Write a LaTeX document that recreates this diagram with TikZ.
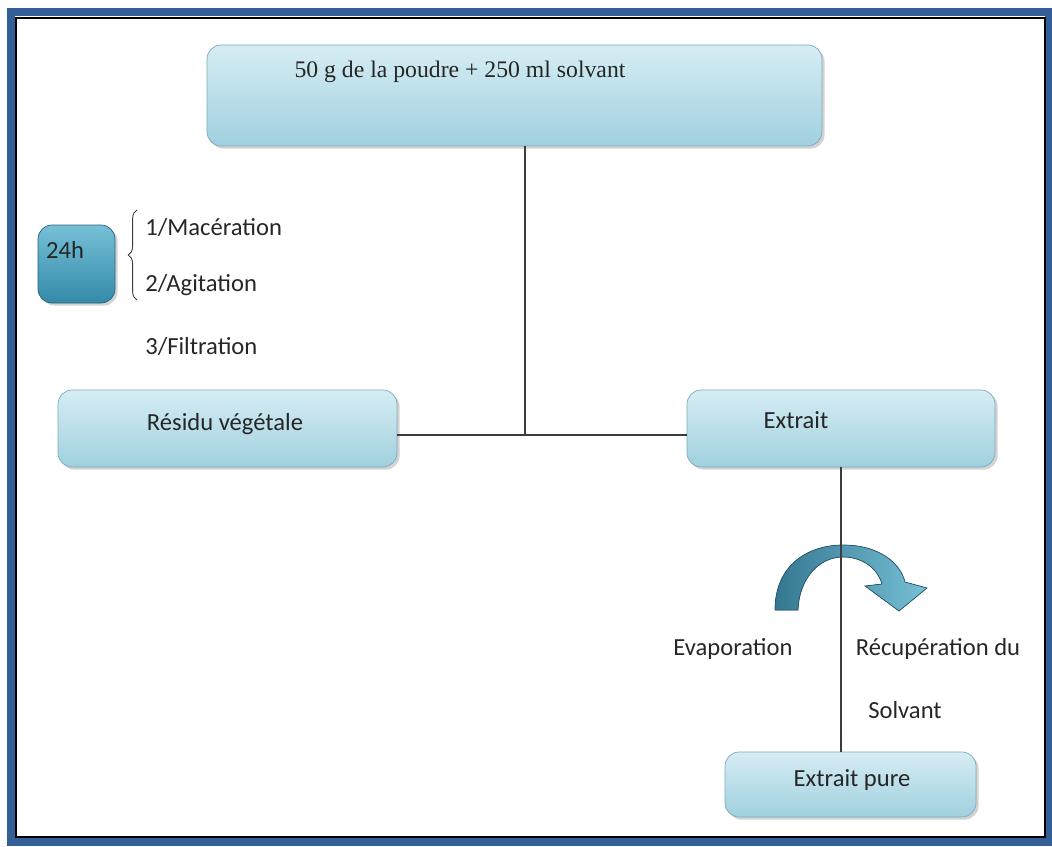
\documentclass[tikz,border=0pt]{standalone}
\usepackage{fontspec}
\setmainfont{Carlito}
\newfontfamily\serifpoudre{Liberation Serif}
\usetikzlibrary{shadows,decorations.pathreplacing}
\definecolor{cadre}{RGB}{52,94,150}
\definecolor{boiteclair}{RGB}{214,237,244}
\definecolor{boitefonce}{RGB}{160,208,222}
\definecolor{bord}{RGB}{125,170,188}
\definecolor{bleuh}{RGB}{118,192,214}
\definecolor{bleub}{RGB}{52,138,170}
\definecolor{fleche}{RGB}{62,140,170}
\definecolor{trait}{RGB}{60,60,60}
\begin{document}
\begin{tikzpicture}[x=0.02cm,y=0.02cm,
  etape/.style={draw=bord, rounded corners=0.28cm, top color=boiteclair, bottom color=boitefonce,
    drop shadow={shadow xshift=1.5pt,shadow yshift=-1.5pt,opacity=0.35}, inner sep=0pt},
  texte/.style={font=\fontsize{14}{16}\selectfont, text=black!85, inner sep=0pt, anchor=base},
  lien/.style={draw=trait, line width=0.8pt}]
 \useasboundingbox (0,0) rectangle (1052,-846);
 \draw[cadre, line width=0.16cm] (11,-12) rectangle (1049,-842);
 \draw[black, line width=1.2pt] (16,-18) rectangle (1045,-837);

 \node[etape, minimum width=12.3cm, minimum height=2.02cm] (poudre) at (514.5,-95.5) {};
 \node[etape, minimum width=6.78cm, minimum height=1.54cm] (residu) at (227.5,-428.5) {};
 \node[etape, minimum width=6.16cm, minimum height=1.54cm] (extrait) at (841,-428.5) {};
 \node[etape, minimum width=5.02cm, minimum height=1.30cm] (pure) at (850.5,-784.5) {};
 \node[etape, draw=bleub!70!black, top color=bleuh, bottom color=bleub, minimum width=1.54cm, minimum height=1.56cm] (duree) at (76.5,-264) {};

 \node[texte, font=\serifpoudre\fontsize{13.5}{16}\selectfont] (poudretexte) at (460,-77) {50 g de la poudre + 250 ml solvant};
 \node[texte] (residutexte) at (225,-430) {Résidu végétale};
 \node[texte] (extraittexte) at (796,-428) {Extrait};
 \node[texte] (puretexte) at (852,-786) {Extrait pure};
 \node[texte] (dureetexte) at (65,-258) {24h};
 \node[texte, anchor=base west] (maceration) at (145,-235) {1/Macération};
 \node[texte, anchor=base west] (agitation) at (145,-291) {2/Agitation};
 \node[texte, anchor=base west] (filtration) at (145,-354) {3/Filtration};
 \node[texte] (evaporation) at (733,-655) {Evaporation};
 \node[texte] (recuperation) at (938,-655) {Récupération du};
 \node[texte] (solvant) at (905,-718) {Solvant};

 \draw[trait, line width=0.5pt, decorate, decoration={brace, amplitude=5pt}] (137,-300) -- (137,-210);

 \coordinate (jonction) at (525,-435);
 \draw[lien] (poudre.south -| jonction) -- (jonction);
 \draw[lien] (residu.east |- jonction) -- (extrait.west |- jonction);

 \filldraw[left color=fleche!85!black, right color=bleuh, draw=fleche!60!black, line width=0.4pt]
   (775,-610) .. controls (775,-565) and (808,-545) .. (843,-545)
   .. controls (878,-545) and (900,-562) .. (905,-582) -- (927,-588) -- (899,-611) -- (865,-586) -- (882,-584)
   .. controls (877,-567) and (861,-557) .. (843,-557)
   .. controls (818,-557) and (799,-580) .. (798,-610) -- cycle;
 \draw[lien] (extrait.south) -- (extrait.south |- pure.north);
\end{tikzpicture}
\end{document}
